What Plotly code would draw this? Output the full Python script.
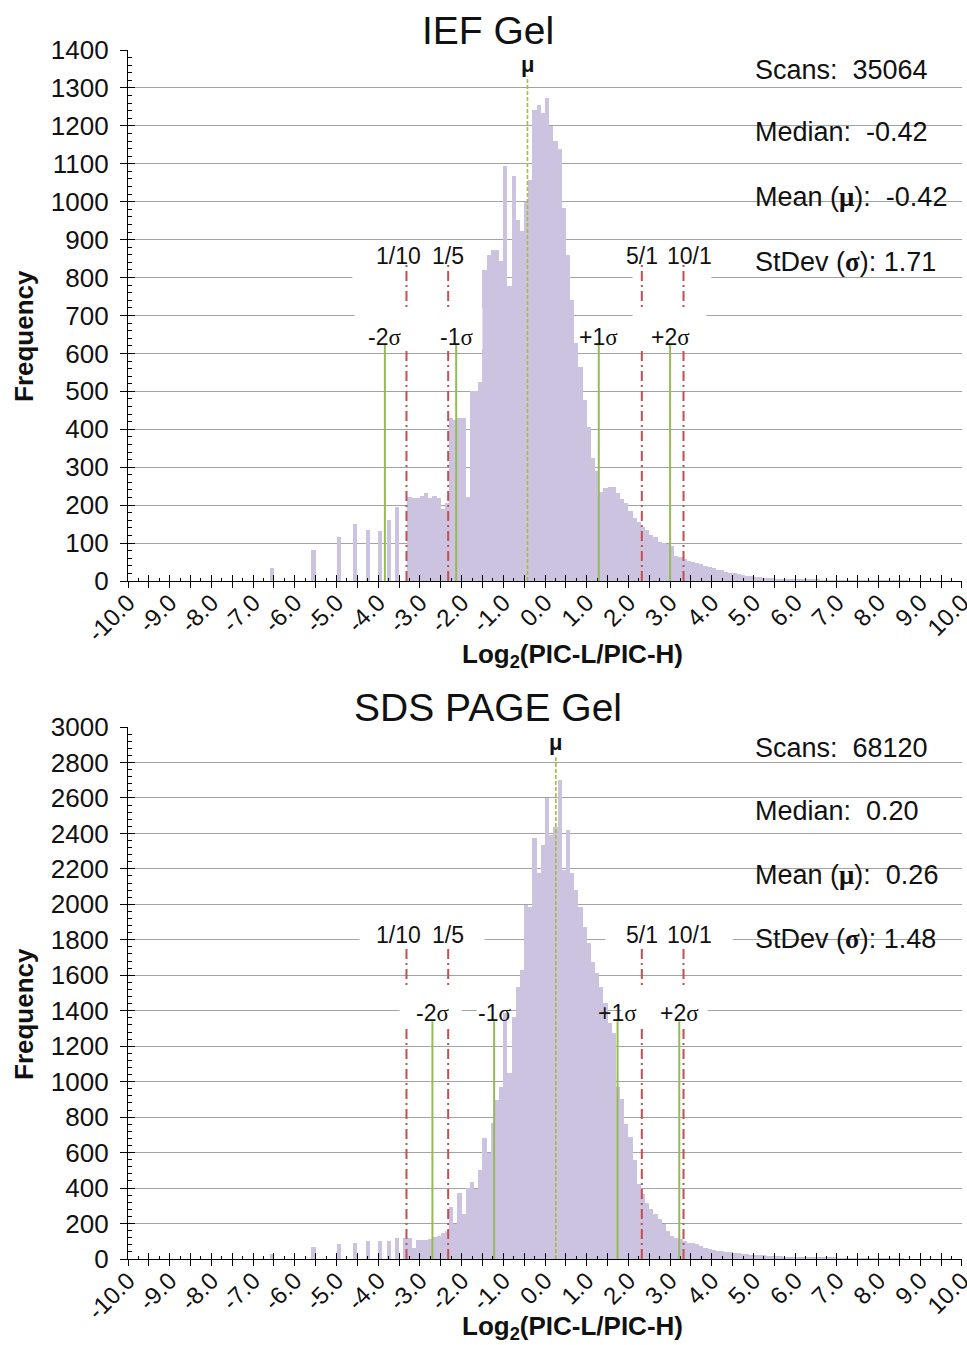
import numpy as np
import plotly.graph_objects as go

W, H = 967, 1345
OFF = 0  # body margin is removed by the post script, so window pixels == figure pixels
BIN_WIDTH = 0.1

# ---------------- data ----------------
# isolated spikes on the left side (bin centres, counts)
IEF_SPIKE_X = [-6.55, -5.55, -4.95, -4.55, -4.25, -3.95, -3.75, -3.55]
IEF_SPIKE_Y = [35, 83, 115, 150, 135, 133, 160, 194]
# contiguous histogram: first bin left edge and counts (bin width 0.1)
IEF_START = -3.3
IEF_COUNTS = [
    222, 218, 218, 224, 231, 218, 224, 220, 190, 205,          # -3.3 .. -2.4
    429, 425, 430, 430, 222, 500, 500, 525, 820, 860,          # -2.3 .. -1.4
    873, 873, 843, 1093, 777, 1067, 952, 922, 1000, 1058,      # -1.3 .. -0.4
    1243, 1256, 1234, 1273, 1199, 1159, 1140, 983, 860, 741,   # -0.3 .. 0.6
    627, 565, 478, 407, 324, 289, 235, 244, 247, 249,          # 0.7 .. 1.6
    232, 215, 205, 185, 165, 155, 143, 134, 122, 116,          # 1.7 .. 2.6
    102, 99, 97, 92, 66, 62, 57, 54, 51, 48,                   # 2.7 .. 3.6
    44, 40, 36, 33, 30, 28, 25, 22, 20, 18,                    # 3.7 .. 4.6
    16, 14, 12, 11, 10, 9, 8, 7, 6, 6,                         # 4.7 .. 5.6
    5, 5, 4, 4, 3, 3, 3, 3, 3, 2,                              # 5.7 .. 6.6
    2, 2, 2, 2, 2, 2, 2, 2, 2, 1,                              # 6.7 .. 7.6
    1, 1, 1, 1, 1, 1, 1, 1, 1, 1,                              # 7.7 .. 8.6
]

SDS_SPIKE_X = [-6.55, -5.55, -4.95, -4.55, -4.25, -3.95, -3.75, -3.55]
SDS_SPIKE_Y = [30, 70, 85, 90, 100, 100, 104, 116]
SDS_START = -3.4
SDS_COUNTS = [
    118, 118, 60, 107, 107, 107, 115, 122, 132, 145,           # -3.4 .. -2.5
    160, 291, 200, 370, 254, 400, 432, 395, 500, 680,          # -2.4 .. -1.5
    600, 765, 897, 972, 1386, 1047, 1367, 1536, 1630, 1997,    # -1.4 .. -0.5
    1987, 2373, 2175, 2335, 2598, 2391, 2438, 2702, 2194, 2420,  # -0.4 .. 0.5
    2175, 2081, 1987, 1874, 1780, 1677, 1611, 1536, 1442, 1329,  # 0.6 .. 1.5
    1273, 972, 900, 760, 690, 560, 421, 365, 318, 280,         # 1.6 .. 2.5
    252, 224, 196, 158, 130, 120, 110, 101, 92, 88,            # 2.6 .. 3.5
    83, 75, 60, 55, 50, 47, 44, 40, 38, 35,                    # 3.6 .. 4.5
    32, 28, 26, 24, 22, 21, 20, 18, 17, 16,                    # 4.6 .. 5.5
    15, 14, 13, 12, 11, 10, 9, 9, 8, 8,                        # 5.6 .. 6.5
    7, 7, 6, 6, 5, 5, 4, 4, 4, 3,                              # 6.6 .. 7.5
    3, 3, 3, 2, 2, 2, 2, 2, 2, 2,                              # 7.6 .. 8.5
]

IEF_STATS = {"scans": "35064", "median": "-0.42", "mean": -0.42, "sd": 1.71}
SDS_STATS = {"scans": "68120", "median": "0.20", "mean": 0.26, "sd": 1.48}

RATIO_LABELS = ["1/10", "1/5", "5/1", "10/1"]
RATIO_VALUES = [0.1, 0.2, 5.0, 10.0]
SIGMA_LABELS = ["-2", "-1", "+1", "+2"]
SIGMA_MULT = [-2, -1, 1, 2]

X_TICK_VALUES = list(range(-10, 11))
X_TICK_TEXT = [f"{v:.1f}" for v in X_TICK_VALUES]

# ---------------- styling ----------------
FONT = "Liberation Sans, Arial, sans-serif"
SERIF = "Liberation Serif, Times New Roman, serif"
BAR_COLOR = "rgb(203,195,223)"
RED = "rgb(196,78,82)"
GREEN = "rgb(150,186,84)"
MU_COLOR = "rgb(172,186,60)"
GRID = "#a3a3a3"

PANELS = [
    dict(name="IEF Gel", stats=IEF_STATS, spx=IEF_SPIKE_X, spy=IEF_SPIKE_Y,
         start=IEF_START, counts=IEF_COUNTS, xa="x", ya="y", xo="x3", yo="y3",
         top=50, bottom=581, ymax=1400, dtick=100, minor=20, title_py=31,
         ratio_label=857, ratio_top=840, sigma_label=643, sigma_top=625,
         mu_label=1362, mu_top=1330, stats_py=[70, 132, 197, 262], stats_box=(40, 292),
         ratio_boxes=[(-4.62, -1.5), (2.10, 3.99)], ratio_box_y=(741, 886),
         sigma_boxes=[(-4.57, -1.5), (2.10, 3.87)], sigma_box_y=(612, 719),
         xtitle_py=655, ytitle_py=336),
    dict(name="SDS PAGE Gel", stats=SDS_STATS, spx=SDS_SPIKE_X, spy=SDS_SPIKE_Y,
         start=SDS_START, counts=SDS_COUNTS, xa="x2", ya="y2", xo="x4", yo="y4",
         top=727, bottom=1259, ymax=3000, dtick=200, minor=40, title_py=707,
         ratio_label=1827, ratio_top=1770, sigma_label=1387, sigma_top=1340,
         mu_label=2915, mu_top=2830, stats_py=[748, 811, 875, 939], stats_box=(720, 958),
         ratio_boxes=[(-4.45, -1.45), (1.45, 4.5)], ratio_box_y=(1714, 1912),
         sigma_boxes=[(-3.49, -2.0), (-1.64, -1.02), (1.83, 3.9)], sigma_box_y=(1308, 1545),
         xtitle_py=1327, ytitle_py=1014),
]

PLOT_L, PLOT_R = 128, 962
X_RANGE = [-10.0005, 10.0005]


def pxx(px):
    return (px - OFF) / W


def pxy(py):
    return 1 - (py - OFF) / H


fig = go.Figure()
shapes = []
annotations = []
layout_axes = {}

for i, p in enumerate(PANELS):
    xs = list(p["spx"]) + [round(p["start"] + BIN_WIDTH * (k + 0.5), 3) for k in range(len(p["counts"]))]
    ys = list(p["spy"]) + list(p["counts"])
    fig.add_trace(go.Bar(x=xs, y=ys, width=BIN_WIDTH, marker=dict(color=BAR_COLOR, line=dict(width=0)),
                         xaxis=p["xa"], yaxis=p["ya"], showlegend=False, hoverinfo="skip"))
    fig.add_trace(go.Scatter(x=[0], y=[0], mode="markers", marker=dict(opacity=0, size=1),
                             xaxis=p["xo"], yaxis=p["yo"], showlegend=False, hoverinfo="skip"))

    ydom = [pxy(p["bottom"]), pxy(p["top"])]
    xkey = "xaxis" if p["xa"] == "x" else "xaxis" + p["xa"][1:]
    ykey = "yaxis" if p["ya"] == "y" else "yaxis" + p["ya"][1:]
    xokey = "xaxis" + p["xo"][1:]
    yokey = "yaxis" + p["yo"][1:]
    layout_axes[xkey] = dict(
        domain=[pxx(PLOT_L), pxx(PLOT_R)], anchor=p["ya"], range=X_RANGE, automargin=False,
        tickmode="array", tickvals=X_TICK_VALUES, ticktext=X_TICK_TEXT, tickangle=-45,
        ticks="outside", ticklen=6, tickwidth=1.3, tickcolor="black",
        minor=dict(ticks="outside", ticklen=6, tickwidth=1.3, tickcolor="black", dtick=0.5, tick0=0, showgrid=False),
        showline=True, linecolor="black", linewidth=1.3, showgrid=False, zeroline=False,
        tickfont=dict(family=FONT, size=24, color="#111"), ticklabelstandoff=-9,
        ticklabeloverflow="allow",
    )
    layout_axes[ykey] = dict(
        domain=ydom, anchor=p["xa"], range=[0, p["ymax"]], tick0=0, dtick=p["dtick"], automargin=False,
        ticks="outside", ticklen=7, tickwidth=1.3, tickcolor="black",
        showline=True, linecolor="black", linewidth=1.3,
        showgrid=True, gridcolor=GRID, gridwidth=1.2, zeroline=False,
        tickfont=dict(family=FONT, size=26, color="#111"), ticklabelstandoff=6,
    )
    layout_axes[xokey] = dict(
        overlaying=p["xa"], anchor=p["yo"], range=X_RANGE, tick0=0, dtick=0.5, automargin=False,
        ticks="inside", ticklen=6, tickwidth=1.3, tickcolor="black",
        showticklabels=False, showgrid=False, zeroline=False, showline=False,
        minor=dict(ticks="inside", ticklen=3, tickwidth=1, tickcolor="black", dtick=0.25, tick0=0, showgrid=False),
    )
    layout_axes[yokey] = dict(
        overlaying=p["ya"], anchor=p["xo"], range=[0, p["ymax"]], tick0=0, dtick=p["dtick"], automargin=False,
        ticks="inside", ticklen=7, tickwidth=1.3, tickcolor="black",
        showticklabels=False, showgrid=False, zeroline=False, showline=False,
        minor=dict(ticks="inside", ticklen=4, tickwidth=1, tickcolor="black", dtick=p["minor"], tick0=0, showgrid=False),
    )

    xa, ya = p["xa"], p["ya"]
    mean, sd = p["stats"]["mean"], p["stats"]["sd"]

    # white boxes behind labels (between gridlines and bars)
    shapes.append(dict(type="rect", xref="paper", yref="paper", x0=pxx(742), x1=1.0,
                       y0=pxy(p["stats_box"][1]), y1=pxy(p["stats_box"][0]),
                       fillcolor="white", line=dict(width=0), layer="between"))
    for bx0, bx1 in p["ratio_boxes"]:
        shapes.append(dict(type="rect", xref=xa, yref=ya, x0=bx0, x1=bx1,
                           y0=p["ratio_box_y"][0], y1=p["ratio_box_y"][1],
                           fillcolor="white", line=dict(width=0), layer="between"))

    # ratio lines (red dash-dot)
    for rv in RATIO_VALUES:
        xv = float(np.log2(rv))
        shapes.append(dict(type="line", xref=xa, yref=ya, x0=xv, x1=xv, y0=0, y1=p["ratio_top"],
                           line=dict(color=RED, width=2, dash="10px,4px,2px,4px"), layer="above"))
    # white label band over the red lines
    for bx0, bx1 in p["sigma_boxes"]:
        shapes.append(dict(type="rect", xref=xa, yref=ya, x0=bx0, x1=bx1,
                           y0=p["sigma_box_y"][0], y1=p["sigma_box_y"][1],
                           fillcolor="white", line=dict(width=0), layer="above"))
    # sigma lines (green)
    for m in SIGMA_MULT:
        xv = mean + m * sd
        shapes.append(dict(type="line", xref=xa, yref=ya, x0=xv, x1=xv, y0=0, y1=p["sigma_top"],
                           line=dict(color=GREEN, width=2), layer="above"))
    # mean line
    shapes.append(dict(type="line", xref=xa, yref=ya, x0=mean, x1=mean, y0=0, y1=p["mu_top"],
                       line=dict(color=MU_COLOR, width=1.6, dash="4px,2px"), layer="above"))

    # labels
    for lab, rv in zip(RATIO_LABELS, RATIO_VALUES):
        xv = float(np.log2(rv))
        shift = -8 if lab in ("1/10",) else (6 if lab == "10/1" else 0)
        annotations.append(dict(xref=xa, yref=ya, x=xv, y=p["ratio_label"], text=lab, showarrow=False,
                                xshift=shift, font=dict(family=FONT, size=23, color="#111")))
    for lab, m in zip(SIGMA_LABELS, SIGMA_MULT):
        xv = mean + m * sd
        annotations.append(dict(xref=xa, yref=ya, x=xv, y=p["sigma_label"],
                                text=f'{lab}<span style="font-family:{SERIF}">σ</span>',
                                showarrow=False, font=dict(family=FONT, size=23, color="#111")))
    annotations.append(dict(xref=xa, yref=ya, x=mean, y=p["mu_label"], text="<b>μ</b>", showarrow=False,
                            font=dict(family=FONT, size=22, color="#111")))

    # stats block
    st = p["stats"]
    nb = "\u00a0"
    lines = [
        f"Scans:{nb}{nb}{st['scans']}",
        f"Median:{nb}{nb}{st['median']}",
        f'Mean{nb}(<b><span style="font-family:{SERIF}">μ</span></b>):{nb}{nb}{mean:.2f}',
        f'StDev{nb}(<b><span style="font-family:{SERIF}">σ</span></b>):{nb}{sd:.2f}',
    ]
    for txt, py in zip(lines, p["stats_py"]):
        annotations.append(dict(xref="paper", yref="paper", x=pxx(753), y=pxy(py), text=txt,
                                xanchor="left", yanchor="middle", showarrow=False,
                                font=dict(family=FONT, size=27, color="#111")))

    # titles
    annotations.append(dict(xref="paper", yref="paper", x=pxx(488), y=pxy(p["title_py"]), text=p["name"],
                            showarrow=False, xanchor="center", yanchor="middle",
                            font=dict(family=FONT, size=39, color="#111")))
    annotations.append(dict(xref="paper", yref="paper", x=pxx(572), y=pxy(p["xtitle_py"]),
                            text="<b>Log<sub>2</sub>(PIC-L/PIC-H)</b>", showarrow=False,
                            xanchor="center", yanchor="middle",
                            font=dict(family=FONT, size=26, color="#111")))
    annotations.append(dict(xref="paper", yref="paper", x=pxx(24), y=pxy(p["ytitle_py"]),
                            text="<b>Frequency</b>", textangle=-90, showarrow=False,
                            xanchor="center", yanchor="middle",
                            font=dict(family=FONT, size=26, color="#111")))

fig.update_layout(
    width=W, height=H, margin=dict(l=0, r=0, t=0, b=0, pad=0),
    paper_bgcolor="white", plot_bgcolor="white", bargap=0, barmode="overlay",
    showlegend=False, shapes=shapes, annotations=annotations, font=dict(family=FONT),
    **layout_axes,
)

fig.write_html(
    "out.html",
    config={"displayModeBar": False},
    post_script="document.body.style.margin='0';document.body.style.overflow='hidden';",
)
